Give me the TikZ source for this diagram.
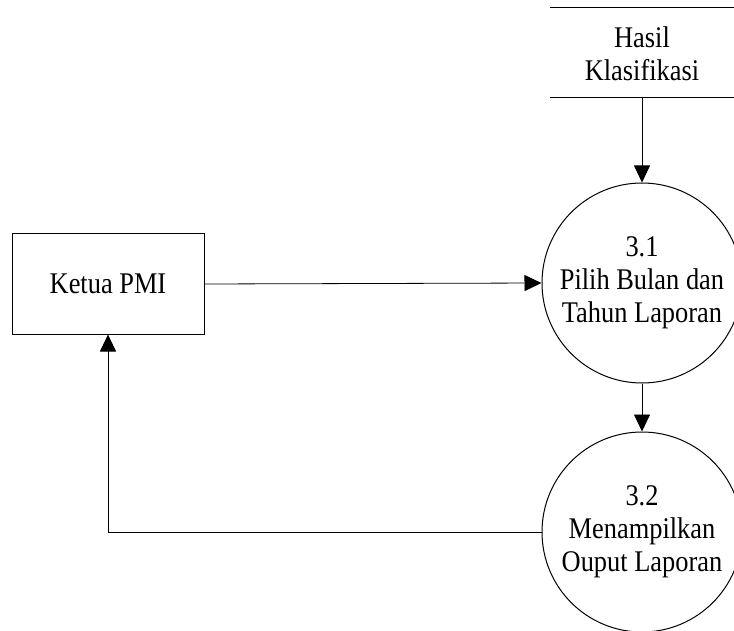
\documentclass[tikz,border=0pt]{standalone}
\usepackage{fontspec}
\setmainfont{Liberation Serif}[FakeStretch=0.88]
\usetikzlibrary{arrows.meta}
\begin{document}
\begin{tikzpicture}[x=1pt,y=-1pt,
  every node/.style={font=\fontsize{30}{33}\selectfont, align=center, inner sep=0pt},
  proc/.style={circle, draw, line width=1pt, minimum size=200pt},
  entity/.style={rectangle, draw, line width=1pt, minimum width=192pt, minimum height=100pt},
  flow/.style={line width=0.8pt, -{Triangle[length=17pt,width=16pt]}}]
\useasboundingbox (0,0) rectangle (734,631);
\clip (0,0) rectangle (734,631);

% external entity
\node[entity] (ketua) at (108,284) {Ketua PMI};

% processes
\node[proc] (p1) at (642,283) {3.1\\Pilih Bulan dan\\Tahun Laporan};
\node[proc] (p2) at (642,532) {3.2\\Menampilkan\\Ouput Laporan};

% data store
\coordinate (dsTL) at (550,8);
\coordinate (dsTR) at (740,8);
\coordinate (dsBL) at (550,98);
\coordinate (dsBR) at (740,98);
\draw[line width=1pt] (dsTL) -- (dsTR);
\draw[line width=1pt] (dsBL) -- (dsBR);
\node (ds) at (642,54) {Hasil\\Klasifikasi};
\coordinate (dsOut) at (642,98);

% flows
\draw[flow] (dsOut) -- (p1.north);
\draw[flow] (ketua.east) -- (p1.west);
\draw[flow] (p1.south) -- (p2.north);
\draw[flow] (p2.west) -| (ketua.south);
\end{tikzpicture}
\end{document}
